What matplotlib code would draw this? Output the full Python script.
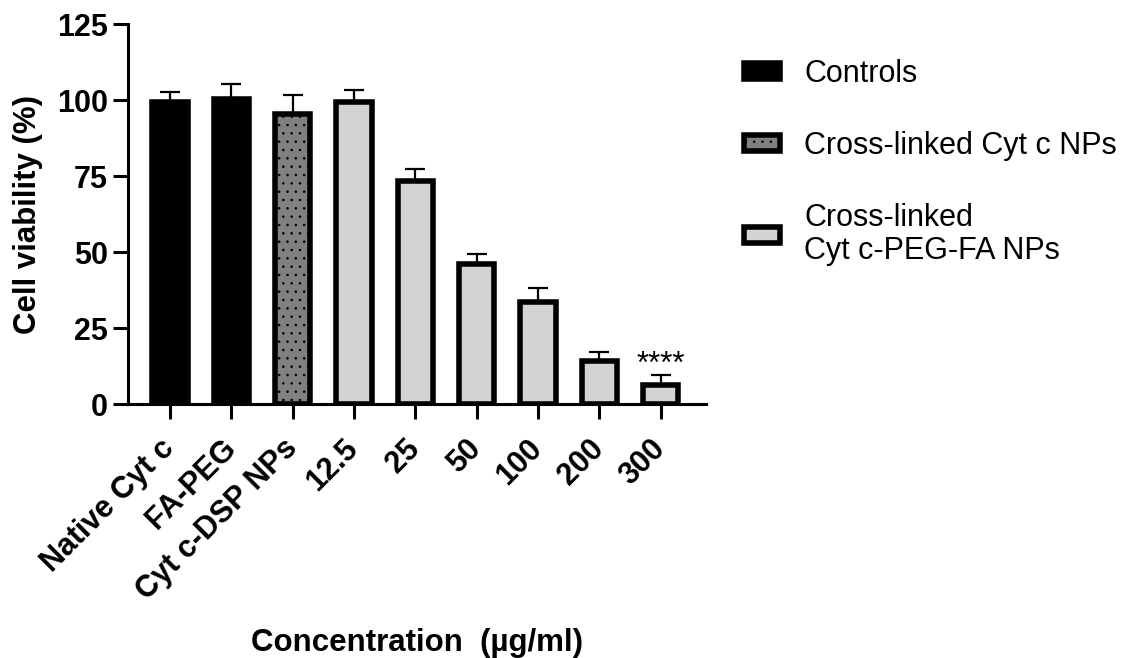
import matplotlib
matplotlib.use("Agg")
import matplotlib.pyplot as plt
from matplotlib.patches import Patch
import numpy as np

plt.rcParams['font.family'] = ['Liberation Sans', 'DejaVu Sans']
plt.rcParams['hatch.linewidth'] = 0.6

# Sample labels, mean viability (%) and SD
labels = ["Native Cyt c", "FA-PEG", "Cyt c-DSP NPs", "12.5", "25", "50", "100", "200", "300"]
viability = [99.3, 100.2, 95.3, 99.4, 73.5, 46.1, 33.6, 14.0, 6.3]
sd = [3.2, 5.1, 6.2, 4.0, 3.8, 3.3, 4.4, 3.1, 3.3]
group = [0, 0, 1, 2, 2, 2, 2, 2, 2]

group_names = ["Controls", "Cross-linked Cyt c NPs", "Cross-linked\nCyt c-PEG-FA NPs"]
group_fill = ["#000000", "#808080", "#d3d3d3"]
group_hatch = [None, "..", None]

FS = 22

fig = plt.figure(figsize=(11.36, 6.58), dpi=100)
ax = fig.add_axes([128 / 1136, 1 - 404 / 658, 578 / 1136, 380 / 658])

x = np.arange(len(labels))
for xi, v, g in zip(x, viability, group):
    ax.bar(xi, v, width=0.574, color=group_fill[g], edgecolor="black",
           linewidth=4.0, hatch=group_hatch[g], zorder=3)

ax.errorbar(x, viability, yerr=[np.zeros(len(sd)), sd], fmt="none",
            ecolor="black", elinewidth=1.6, capsize=7.5, capthick=1.6, zorder=2)

ax.text(x[-1], 10.3, "****", ha="center", va="baseline", fontsize=22.5)

ax.set_xlim(-0.685, 8.74)
ax.set_ylim(0, 125)
ax.set_yticks([0, 25, 50, 75, 100, 125])
ax.set_xticks(x)
ax.set_xticklabels(labels, rotation=45, ha="right", rotation_mode="anchor",
                   va="center", fontsize=FS, fontweight="bold")
for t in ax.get_yticklabels():
    t.set_fontsize(FS)
    t.set_fontweight("bold")

for side in ["top", "right"]:
    ax.spines[side].set_visible(False)
for side in ["left", "bottom"]:
    ax.spines[side].set_linewidth(2.2)
ax.tick_params(axis="both", direction="out", length=10.8, width=2.2)
ax.tick_params(axis="y", pad=3.6)
ax.tick_params(axis="x", pad=18)

ax.set_ylabel("Cell viability (%)", fontsize=22.5, fontweight="bold")
ax.yaxis.set_label_coords(-0.147, 0.5)
ax.set_xlabel("Concentration  (µg/ml)", fontsize=22.5, fontweight="bold")
ax.xaxis.set_label_coords(0.5, -0.589)

handles = [Patch(facecolor=group_fill[i], edgecolor="black", linewidth=4.0,
                 hatch=group_hatch[i]) for i in range(3)]
leg = fig.legend(handles, group_names, loc="upper left",
                 bbox_to_anchor=(744 / 1136, 1 - 59 / 658), frameon=False,
                 fontsize=FS, handlelength=1.17, handleheight=0.43,
                 handletextpad=0.8, labelspacing=1.38, borderpad=0, borderaxespad=0)
leg.get_texts()[2].set_linespacing(1.12)

fig.savefig("out.png", dpi=100)
